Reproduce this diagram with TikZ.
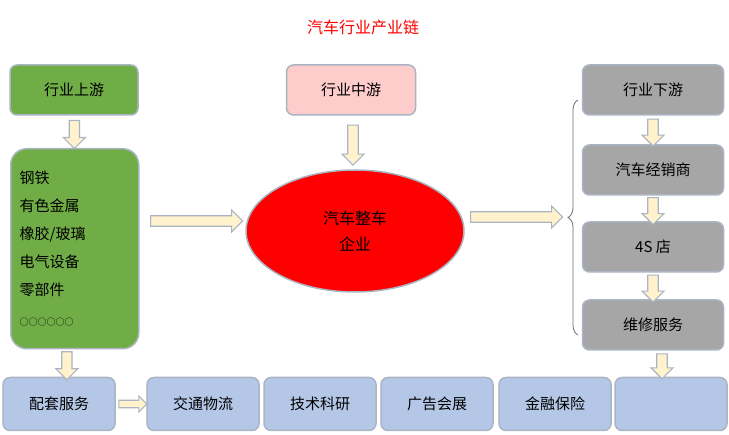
\documentclass[tikz,border=0pt]{standalone}
\usepackage{fontspec}
\setmainfont{Noto Sans CJK SC}
\usepackage{tikz}
\usetikzlibrary{shapes,arrows,positioning,calc,decorations.pathreplacing}

\definecolor{upgreen}{RGB}{112,173,71}
\definecolor{midpink}{RGB}{255,204,204}
\definecolor{downgray}{RGB}{166,166,166}
\definecolor{svcblue}{RGB}{180,199,231}
\definecolor{rimgray}{RGB}{170,180,195}
\definecolor{cream}{RGB}{255,242,204}

\tikzset{
  box/.style={draw=rimgray, line width=1.5pt, rounded corners=7pt, inner sep=2pt, font=\fontsize{15}{18}\selectfont},
  barrow/.style={single arrow, draw=rimgray, fill=cream, line width=1.2pt, minimum width=22pt, single arrow head extend=4pt, inner sep=3pt}
}

\begin{document}
\begin{tikzpicture}[x=1pt, y=-1pt]
\useasboundingbox (0,0) rectangle (729,435);
% Title
\node[text=red, font=\fontsize{16}{19}\selectfont] (title) at (363,27) {汽车行业产业链};

% Upstream
\node[box, fill=upgreen, minimum width=128pt, minimum height=50pt] (up) at (74,90) {行业上游};
\node[box, fill=upgreen, minimum width=128pt, minimum height=200pt, rounded corners=16pt, align=left, anchor=north west, text width=110pt, font=\fontsize{15}{28}\selectfont] (mat) at (10,148)
  {钢铁\\有色金属\\橡胶/玻璃\\电气设备\\零部件\\[2pt]{\fontsize{9}{10}\selectfont ○○○○○○}};

% Midstream
\node[box, fill=midpink, minimum width=129pt, minimum height=50pt] (mid) at (351,90) {行业中游};
\node[ellipse, draw=rimgray, line width=1.5pt, fill=red, minimum width=218pt, minimum height=122pt, align=center, font=\fontsize{16}{26}\selectfont] (car) at (355,231) {汽车整车\\企业};

% Downstream
\foreach \t/\y [count=\i] in {行业下游/90, 汽车经销商/170, 4S 店/247, 维修服务/325}
  \node[box, fill=downgray, minimum width=141pt, minimum height=50pt] (down-\i) at (653,\y) {\t};

% Services
\foreach \t/\x [count=\i] in {配套服务/59, 交通物流/203, 技术科研/320, 广告会展/437, 金融保险/555, /671}
  \node[box, fill=svcblue, minimum width=112pt, minimum height=53pt] (svc-\i) at (\x,404) {\t};

% Brace
\coordinate (br-top) at (578,100);
\coordinate (br-bot) at (578,335);
\draw[rimgray!60!black, line width=0.8pt, decoration={brace, amplitude=10pt}, decorate] (br-bot) -- (br-top);

% Block arrows
\node[barrow, rotate=-90, minimum height=28pt] at ($(up.south)!0.5!(mat.north)$) {};
\node[barrow, rotate=-90, minimum height=28pt] at ($(mat.south)!0.5!(svc-1.north)$) {};
\node[barrow, rotate=-90, minimum height=40pt] (a-mid) at ($(mid.south)!0.5!(car.north)$) {};
\node[barrow, minimum height=92pt] at (194,221) {};
\node[barrow, minimum height=92pt] at (514,217) {};
\node[barrow, minimum height=28pt, minimum width=16pt] at ($(svc-1.east)!0.5!(svc-2.west)$) {};
\foreach \i [evaluate=\i as \j using int(\i+1)] in {1,2,3}
  \node[barrow, rotate=-90, minimum height=27pt] at ($(down-\i.south)!0.5!(down-\j.north)$) {};
\node[barrow, rotate=-90, minimum height=25pt] at ($(down-4.south)!0.5!(svc-6.north)$) {};
\end{tikzpicture}
\end{document}
